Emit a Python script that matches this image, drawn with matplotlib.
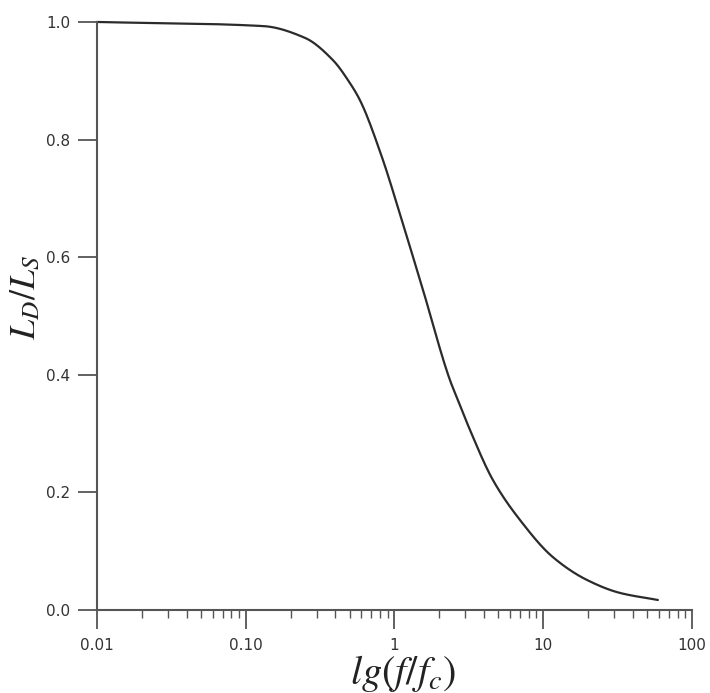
"""
L_D/L_S versus normalised frequency
"""
import numpy as np
import matplotlib
matplotlib.use("Agg")
import matplotlib.pyplot as plt
from matplotlib.ticker import FixedLocator, LogLocator, NullFormatter

# curve
v_f = [0.01, 0.131, 0.25, 0.386, 0.502, 0.586, 0.824, 1.12, 1.556, 2.36, 2.67, 3.22, 4.59, 6.98, 11.6, 19.7, 32.8, 59.0]
v_ratio = [1.0, 0.993, 0.973, 0.935, 0.896, 0.867, 0.770, 0.663, 0.544, 0.391, 0.357, 0.306, 0.221, 0.153, 0.090, 0.051, 0.029, 0.017]

v_xticks = [0.01, 0.1, 1, 10, 100]
v_xtick_labels = ["0.01", "0.10", "1", "10", "100"]
v_yticks = [0.0, 0.2, 0.4, 0.6, 0.8, 1.0]
v_ytick_labels = ["0.0", "0.2", "0.4", "0.6", "0.8", "1.0"]


def pchip(v_x, v_y, v_q):
    # monotone cubic (Fritsch-Carlson) through the read points
    v_x = np.asarray(v_x, float)
    v_y = np.asarray(v_y, float)
    v_h = np.diff(v_x)
    v_d = np.diff(v_y) / v_h
    v_m = np.zeros_like(v_y)
    for i in range(1, len(v_y) - 1):
        if v_d[i-1] * v_d[i] > 0:
            w1 = 2*v_h[i] + v_h[i-1]
            w2 = v_h[i] + 2*v_h[i-1]
            v_m[i] = (w1 + w2) / (w1/v_d[i-1] + w2/v_d[i])
    v_m[0] = v_d[0]
    v_m[-1] = v_d[-1]
    idx = np.clip(np.searchsorted(v_x, v_q) - 1, 0, len(v_h) - 1)
    t = (v_q - v_x[idx]) / v_h[idx]
    h = v_h[idx]
    return ((2*t**3 - 3*t**2 + 1)*v_y[idx] + (t**3 - 2*t**2 + t)*h*v_m[idx]
            + (-2*t**3 + 3*t**2)*v_y[idx+1] + (t**3 - t**2)*h*v_m[idx+1])


plt.rcParams['mathtext.fontset'] = 'stix'
c_axis = '#555555'

fig = plt.figure(figsize=(7.10, 6.93), dpi=100)
ax = fig.add_axes([0.1366, 0.1198, 0.838, 0.8485])

v_lgf = np.log10(v_f)
v_fine = np.linspace(v_lgf[0], v_lgf[-1], 600)
v_r_fine = pchip(v_lgf, v_ratio, v_fine)
ax.plot(10**v_fine, v_r_fine, color='#2b2b2b', linewidth=1.6, solid_capstyle='round', clip_on=False)

ax.set_xscale('log')
ax.set_xlim(0.01, 100)
ax.set_ylim(0, 1.0)

for s in ['top', 'right']:
    ax.spines[s].set_visible(False)
for s in ['left', 'bottom']:
    ax.spines[s].set_color(c_axis)
    ax.spines[s].set_linewidth(1.5)

ax.xaxis.set_major_locator(FixedLocator(v_xticks))
ax.set_xticklabels(v_xtick_labels)
ax.xaxis.set_minor_locator(LogLocator(base=10, subs=np.arange(2, 10)))
ax.xaxis.set_minor_formatter(NullFormatter())
ax.set_yticks(v_yticks)
ax.set_yticklabels(v_ytick_labels)

ax.tick_params(axis='both', which='major', direction='out', length=14, width=1.3,
               color=c_axis, labelsize=11, labelcolor='#333333', pad=5)
ax.tick_params(axis='x', which='minor', direction='out', length=6, width=1.0, color=c_axis)
ax.tick_params(axis='x', which='major', pad=6)

ax.text(-0.12, 0.532, r'$L_D/L_S$', transform=ax.transAxes, rotation=90,
        ha='center', va='center', fontsize=26, color='#222222')
ax.text(0.514, -0.108, r'$lg(f/f_c)$', transform=ax.transAxes,
        ha='center', va='center', fontsize=29, color='#222222')

fig.savefig("out.png", dpi=100, facecolor='white')
